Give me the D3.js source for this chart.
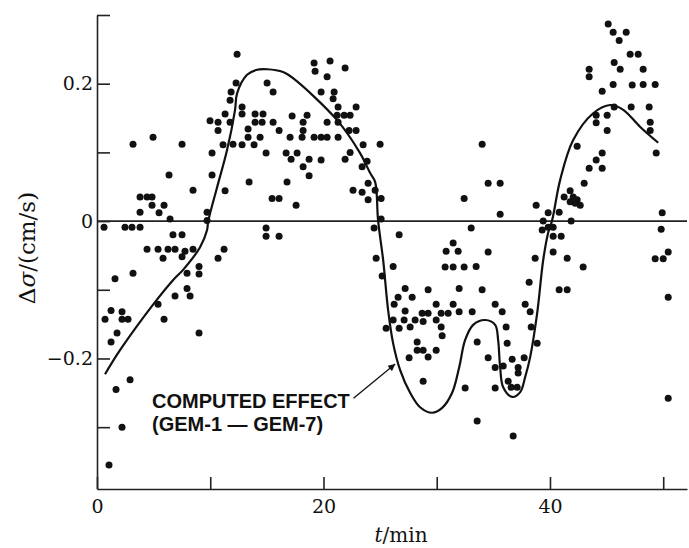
<!DOCTYPE html>
<html>
<head>
<meta charset="utf-8">
<script src="https://cdn.jsdelivr.net/npm/d3@7"></script>
<style>
  html, body { margin: 0; padding: 0; background: #fff; }
  svg { display: block; }
</style>
</head>
<body>
<svg id="chart" width="689" height="548"></svg>
<script>
// ---- data (t in min, Δσ in cm/s) ----
const pointsT = [
  0.62,2.47,3.09,3.80,3.18,4.95,7.51,6.36,8.48,3.80,4.42,4.86,3.80,4.86,5.48,5.92,6.45,6.71,7.51,4.42,
  5.39,6.27,6.89,7.77,8.48,5.83,7.51,9.01,7.95,9.01,3.18,1.59,7.95,8.22,6.89,5.39,0.71,1.24,2.21,2.21,
  2.74,1.77,1.24,5.92,9.01,1.68,2.92,2.21,1.06,9.72,9.72,10.69,11.22,12.37,12.28,11.84,11.75,11.31,9.98,10.69,
  10.69,11.75,12.81,12.81,13.96,14.66,13.96,14.58,15.55,13.34,13.34,14.40,16.08,11.13,12.01,12.81,13.87,10.16,14.93,10.16,
  11.31,13.43,15.46,16.08,17.58,14.93,14.93,16.08,15.02,15.55,17.23,18.20,18.20,18.55,17.05,18.11,16.70,17.67,17.14,18.73,
  18.20,18.73,16.78,19.17,19.26,20.58,21.91,20.32,19.79,20.94,20.85,21.29,21.20,21.82,22.35,22.88,20.32,21.29,22.26,22.88,
  19.17,19.79,20.32,21.29,23.50,19.79,21.91,22.35,23.85,23.41,22.61,23.41,23.94,23.94,24.56,25.09,25.00,25.09,24.47,26.68,
  24.65,26.15,25.18,30.74,31.45,32.42,33.48,31.45,30.83,31.89,33.04,32.42,34.01,34.54,35.60,35.60,34.54,27.21,29.24,31.98,
  34.01,26.59,27.83,26.24,29.95,31.45,35.16,37.81,27.21,28.71,29.24,30.39,31.01,31.98,33.13,35.78,38.25,26.15,27.12,28.09,
  28.80,29.95,25.53,26.68,27.65,30.39,30.48,36.13,38.34,28.27,28.27,28.80,29.95,29.24,27.56,33.57,36.22,38.87,34.54,36.66,
  37.72,35.16,35.87,37.19,37.19,28.80,36.31,32.51,35.16,36.57,37.10,33.57,36.75,38.16,38.69,40.81,41.52,38.78,39.40,39.84,
  40.81,39.31,39.84,40.28,40.28,40.99,40.28,41.52,42.93,41.87,41.25,41.78,42.05,42.40,42.67,41.78,42.23,43.02,43.46,44.08,
  44.61,44.61,42.40,44.08,44.08,45.05,45.05,44.61,43.46,43.46,45.14,45.58,46.11,46.73,45.67,46.20,47.08,47.79,48.23,45.58,
  47.26,48.23,49.29,45.67,47.17,48.76,48.85,48.85,49.38,49.91,49.82,49.29,50.00,50.44,50.44,50.44
];
const pointsV = [
  -0.009,-0.009,-0.009,-0.009,0.112,0.122,0.112,0.067,0.045,0.035,0.035,0.035,0.013,0.023,0.012,0.023,0.003,-0.020,-0.020,-0.041,
  -0.041,-0.041,-0.041,-0.044,-0.041,-0.054,-0.052,-0.066,-0.076,-0.077,-0.076,-0.084,-0.098,-0.109,-0.109,-0.121,-0.143,-0.130,-0.132,-0.143,
  -0.143,-0.163,-0.176,-0.143,-0.163,-0.245,-0.231,-0.300,-0.355,0.013,0.001,-0.054,-0.041,0.243,0.201,0.188,0.176,0.156,0.146,0.144,
  0.132,0.144,0.166,0.156,0.156,0.156,0.144,0.144,0.144,0.134,0.122,0.122,0.132,0.111,0.112,0.111,0.111,0.099,0.099,0.067,
  0.044,0.057,0.033,0.033,0.023,-0.010,-0.022,-0.022,0.201,0.188,0.153,0.144,0.132,0.154,0.122,0.122,0.099,0.099,0.090,0.090,
  0.079,0.066,0.057,0.230,0.218,0.233,0.223,0.210,0.188,0.188,0.178,0.166,0.154,0.154,0.154,0.166,0.144,0.144,0.132,0.132,
  0.122,0.122,0.122,0.122,0.111,0.089,0.090,0.100,0.087,0.079,0.045,0.042,0.055,0.031,0.045,0.033,0.112,0.003,-0.010,-0.020,
  -0.054,-0.066,-0.080,-0.067,-0.067,-0.067,-0.066,-0.032,-0.044,-0.044,-0.010,0.033,0.112,0.055,0.055,0.010,-0.045,-0.098,-0.100,-0.098,
  -0.100,-0.111,-0.111,-0.121,-0.121,-0.121,-0.121,-0.121,-0.131,-0.134,-0.134,-0.134,-0.134,-0.132,-0.132,-0.132,-0.132,-0.144,-0.144,-0.144,
  -0.146,-0.144,-0.156,-0.156,-0.154,-0.154,-0.167,-0.154,-0.154,-0.176,-0.188,-0.188,-0.188,-0.198,-0.199,-0.176,-0.178,-0.178,-0.199,-0.201,
  -0.199,-0.213,-0.211,-0.213,-0.221,-0.233,-0.233,-0.243,-0.243,-0.242,-0.242,-0.291,-0.313,-0.089,-0.054,-0.100,-0.100,0.023,0.000,0.012,
  0.013,-0.013,-0.009,-0.009,-0.022,-0.022,-0.045,-0.054,-0.067,0.000,0.035,0.044,0.035,0.031,0.023,0.028,0.026,0.055,0.077,0.089,
  0.077,0.099,0.109,0.154,0.143,0.154,0.132,0.189,0.221,0.210,0.287,0.275,0.263,0.275,0.231,0.221,0.243,0.243,0.221,0.199,
  0.198,0.199,0.199,0.166,0.166,0.166,0.144,0.132,0.099,0.012,-0.012,-0.055,-0.055,-0.045,-0.111,-0.258
];

// computed effect curve (GEM-1 − GEM-7)
const curveT = [0.71,2.03,5.12,6.71,7.60,9.10,9.72,9.81,10.60,11.48,12.19,12.37,13.25,14.05,15.02,16.43,17.31,21.20,23.23,24.12,
  24.56,24.82,25.27,25.71,26.15,26.77,27.65,28.53,29.59,30.48,31.36,31.98,32.51,33.22,34.28,35.16,35.42,35.60,35.87,36.66,
  37.37,37.81,38.25,38.87,39.40,39.84,40.19,40.90,42.05,43.82,45.32,46.47,47.97,49.56];
const curveV = [-0.223,-0.188,-0.118,-0.086,-0.071,-0.038,-0.013,-0.001,0.049,0.103,0.162,0.186,0.213,0.220,0.221,0.217,0.208,0.147,0.099,0.070,
  0.057,0.001,-0.057,-0.130,-0.178,-0.217,-0.250,-0.271,-0.279,-0.272,-0.250,-0.213,-0.173,-0.151,-0.144,-0.151,-0.173,-0.213,-0.242,-0.256,
  -0.249,-0.227,-0.198,-0.134,-0.057,-0.017,0.001,0.060,0.118,0.157,0.169,0.162,0.137,0.114];

const xTickValues = [0,10,20,30,40,50];
const xTickLabels = ["0","","20","","40",""];
const yTickValues = [-0.3,-0.2,-0.1,0,0.1,0.2,0.3];
const yTickLabels = ["","\u22120.2","","0","","0.2",""];
const annotationLines = ["COMPUTED EFFECT","(GEM-1 \u2014 GEM-7)"];
// annotation anchor points in data units
const annotationText = {t: 4.86, v: -0.272};
const arrowFrom = {t: 22.65, v: -0.258};
const arrowTo = {t: 26.33, v: -0.208};

// ---- drawing ----
const svg = d3.select("#chart");
const x = d3.scaleLinear().domain([0, 52.1]).range([97, 687]);
const y = d3.scaleLinear().domain([-0.39, 0.30]).range([489, 15]);

const serif = "'DejaVu Serif', 'Liberation Serif', serif";

// zero line
svg.append("line")
  .attr("x1", x(0)).attr("x2", x(52.1))
  .attr("y1", y(0)).attr("y2", y(0))
  .attr("stroke", "#222").attr("stroke-width", 1.6);

// axes
const yAxis = d3.axisLeft(y)
  .tickValues(yTickValues)
  .tickFormat((d, i) => yTickLabels[i])
  .tickSizeInner(-13).tickSizeOuter(0).tickPadding(4);
const gy = svg.append("g").attr("transform", `translate(${x(0)},0)`).call(yAxis);

const xAxis = d3.axisBottom(x)
  .tickValues(xTickValues)
  .tickFormat((d, i) => xTickLabels[i])
  .tickSizeInner(-12).tickSizeOuter(0).tickPadding(11);
const gx = svg.append("g").attr("transform", `translate(0,${y(-0.39)})`).call(xAxis);

[gx, gy].forEach(g => {
  g.attr("font-family", null).attr("font-size", null);
  g.select(".domain").attr("stroke", "#222").attr("stroke-width", 1.6);
  g.selectAll(".tick line").attr("stroke", "#222").attr("stroke-width", 1.6);
  g.selectAll(".tick text")
    .style("font-family", serif).style("font-size", "19px").attr("fill", "#111");
});

// axis titles
svg.append("text")
  .attr("transform", `translate(35,248) rotate(-90)`)
  .attr("text-anchor", "middle")
  .style("font-family", serif).style("font-size", "23px").attr("fill", "#111")
  .call(t => {
    t.append("tspan").text("\u0394");
    t.append("tspan").attr("font-style", "italic").text("\u03c3");
    t.append("tspan").text("/(cm/s)");
  });

svg.append("text")
  .attr("x", 401).attr("y", 542)
  .attr("text-anchor", "middle")
  .style("font-family", serif).style("font-size", "20px").attr("fill", "#111")
  .call(t => {
    t.append("tspan").attr("font-style", "italic").text("t");
    t.append("tspan").text("/min");
  });

// curve
const line = d3.line()
  .x((d, i) => x(curveT[i]))
  .y((d, i) => y(curveV[i]))
  .curve(d3.curveCatmullRom.alpha(0.5));
svg.append("path")
  .attr("d", line(curveT))
  .attr("fill", "none").attr("stroke", "#111").attr("stroke-width", 2.2);

// points
svg.append("g").selectAll("circle")
  .data(pointsT)
  .join("circle")
  .attr("cx", (d, i) => x(pointsT[i]))
  .attr("cy", (d, i) => y(pointsV[i]))
  .attr("r", 3.5)
  .attr("fill", "#111");

// annotation
const ann = svg.append("text")
  .attr("x", x(annotationText.t)).attr("y", y(annotationText.v))
  .style("font-family", "'Liberation Sans', Arial, sans-serif")
  .style("font-weight", "bold").style("font-size", "20px").attr("fill", "#111");
annotationLines.forEach((s, i) => {
  ann.append("tspan").attr("x", x(annotationText.t)).attr("dy", i === 0 ? 0 : 23).text(s);
});

svg.append("defs").append("marker")
  .attr("id", "ah").attr("viewBox", "0 0 10 10")
  .attr("refX", 10).attr("refY", 5)
  .attr("markerWidth", 10).attr("markerHeight", 7)
  .attr("markerUnits", "userSpaceOnUse")
  .attr("orient", "auto")
  .append("path").attr("d", "M0,0 L10,5 L0,10 Z").attr("fill", "#111");

svg.append("line")
  .attr("x1", x(arrowFrom.t)).attr("y1", y(arrowFrom.v))
  .attr("x2", x(arrowTo.t)).attr("y2", y(arrowTo.v))
  .attr("stroke", "#111").attr("stroke-width", 1.3)
  .attr("marker-end", "url(#ah)");
</script>
</body>
</html>
